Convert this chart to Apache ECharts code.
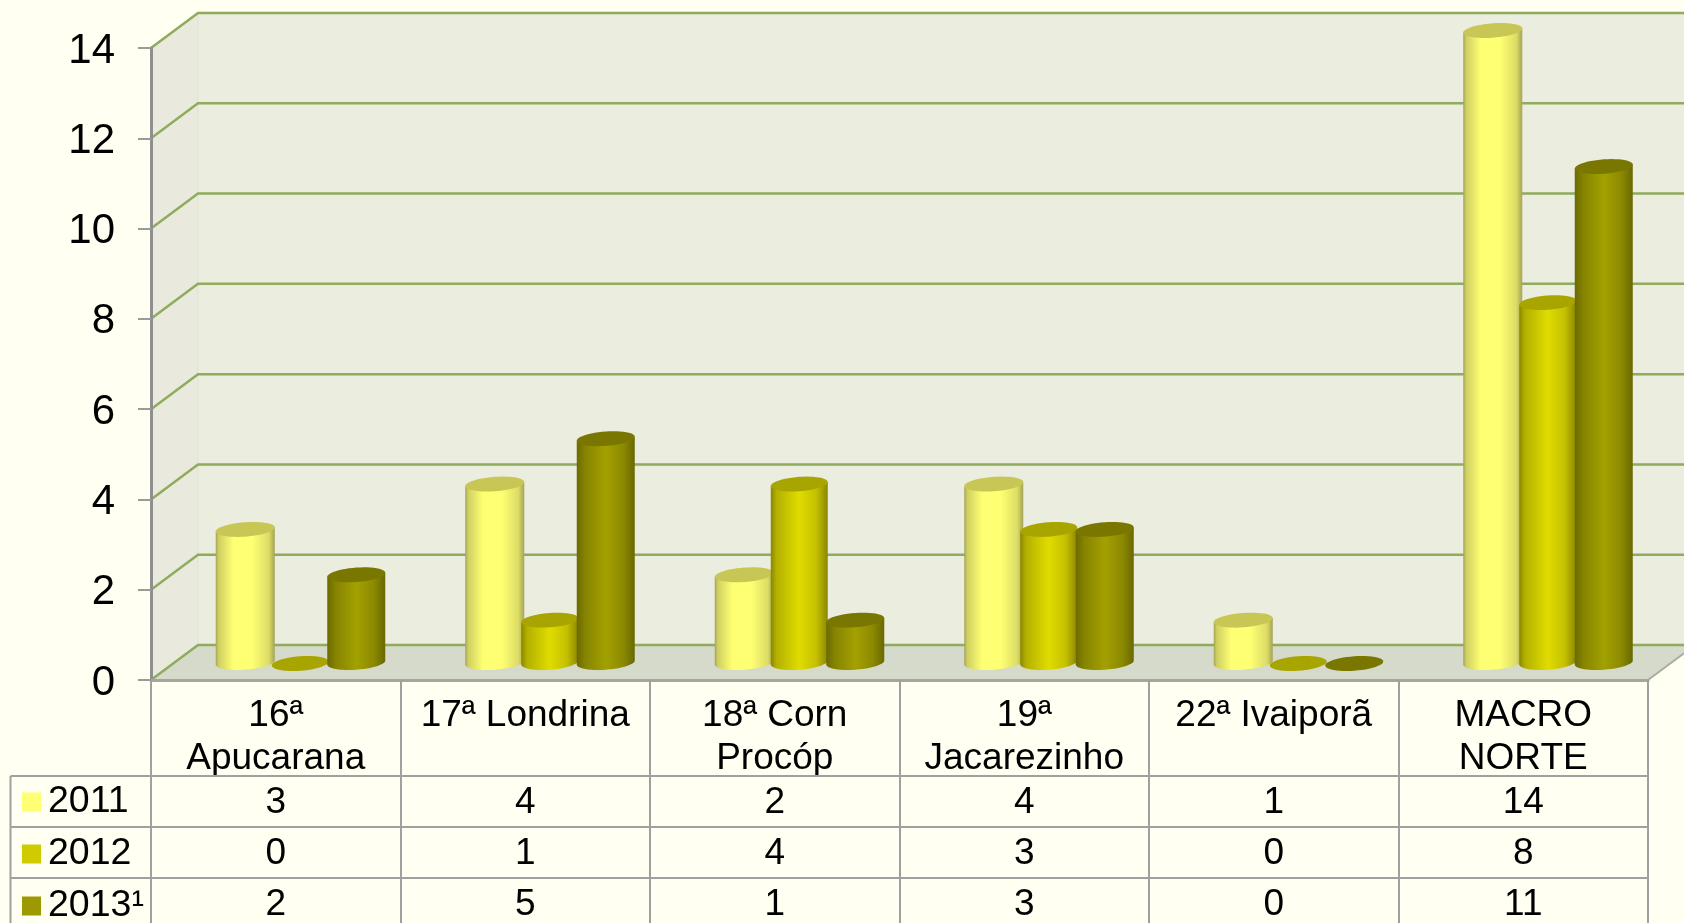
<!DOCTYPE html>
<html><head><meta charset="utf-8">
<style>html,body{margin:0;padding:0;background:#fffff2;overflow:hidden}#c{width:1684px;height:923px}</style>
<script src="https://cdn.jsdelivr.net/npm/echarts@6/dist/echarts.min.js"></script>
</head><body><div id="c"></div>
<script>
const categories = ['16ª\nApucarana','17ª Londrina','18ª Corn\nProcóp','19ª\nJacarezinho','22ª Ivaiporã','MACRO\nNORTE'];
const yearNames = ['2011','2012','2013¹'];
const values2011 = [3,4,2,4,1,14];
const values2012 = [0,1,4,3,0,8];
const values2013 = [2,5,1,3,0,11];
const yTicks = [0,2,4,6,8,10,12,14];

const seriesValues = [values2011, values2012, values2013];
const swatch = ['#ffff73','#cfcb00','#9c9a00'];
const tops = ['#c8c755','#a9a500','#7a7700'];
const bodies = [
  [[0,'#a3a356'],[0.05,'#cfcf62'],[0.3,'#ffff73'],[0.62,'#ffff73'],[0.9,'#dcdc66'],[1,'#a3a356']],
  [[0,'#8a8700'],[0.1,'#b3b000'],[0.5,'#e0dc00'],[0.8,'#c4c000'],[1,'#8a8700']],
  [[0,'#6c6a00'],[0.15,'#868400'],[0.5,'#a3a100'],[0.8,'#8c8a00'],[1,'#6a6800']]
];
const W = 1684, H = 923;
const G = {l:151, r:1648, t:48, b:680};
const DX = 47, DY = -35;
const cellW = (G.r - G.l) / categories.length;
const barOffset = [-54, 1, 57], barR = [29.5, 28.5, 29], RY = 7.2, TILT = Math.tan(4*Math.PI/180);
const rows = [776, 827, 878, 929];
const lineCol = '#a0a0a0', gridCol = '#8fab5c';

function ellPt(cx,cy,r,t){ return [cx + r*Math.cos(t), cy + RY*Math.sin(t) - r*Math.cos(t)*TILT]; }
function cylinder(si){
  return function(params, api){
    const cat = api.value(0), val = api.value(1);
    const p0 = api.coord([cat,0]), p1 = api.coord([cat,val]);
    const cx = p0[0] + DX/2 + barOffset[si], r = barR[si];
    const by = p0[1] + DY/2;
    const ty = p1[1] + DY/2 + (val > 0 ? 3*(1 - val/14) : 1);
    const children = [];
    if (val > 0) {
      const pts = [ellPt(cx,ty,r,Math.PI), ellPt(cx,ty,r,0)];
      for (let i=0;i<=24;i++) pts.push(ellPt(cx,by,r,Math.PI*i/24));
      children.push({type:'polygon', shape:{points:pts}, style:{fill:new echarts.graphic.LinearGradient(0,0,1,0,bodies[si].map(s=>({offset:s[0],color:s[1]})))}});
    }
    const top = [];
    for (let i=0;i<48;i++) top.push(ellPt(cx,ty,r,2*Math.PI*i/48));
    children.push({type:'polygon', shape:{points:top}, style:{fill:tops[si]}});
    return {type:'group', children};
  };
}
function wallItem(params, api){
  const a = api.coord([0,0]);
  const topP = api.coord([0,14]);
  const lx=G.l, by=a[1], ty=topP[1];
  return {type:'group', children:[
    {type:'polygon', shape:{points:[[lx+DX,by+DY],[lx+DX,ty+DY],[W+10,ty+DY],[W+10,by+DY]]}, style:{fill:'#ebeddf'}},
    {type:'polygon', shape:{points:[[lx,by],[lx,ty],[lx+DX,ty+DY],[lx+DX,by+DY]]}, style:{fill:'#e9eadd'}},
    {type:'polygon', shape:{points:[[lx,by],[lx+DX,by+DY],[W+10,by+DY],[G.r+DX,by+DY],[G.r,by]]}, style:{fill:'#d6dacb'}},
    {type:'line', shape:{x1:lx+DX,y1:ty+DY,x2:lx+DX,y2:by+DY}, style:{stroke:'#dfe3d4',lineWidth:1}},
    {type:'line', shape:{x1:G.r,y1:by,x2:W,y2:by+DY*(W-G.r)/DX}, style:{stroke:'#a9ada3',lineWidth:2}}
  ]};
}
function gridItem(params, api){
  const p = api.coord([0,api.value(0)]);
  return {type:'group', children:[
    {type:'polyline', shape:{points:[[G.l,p[1]],[G.l+DX,p[1]+DY],[W+10,p[1]+DY]]}, style:{stroke:gridCol,lineWidth:2.5,fill:null}}
  ]};
}

const table = [];
rows.forEach(y=>table.push({type:'line',shape:{x1:10.5,y1:y,x2:G.r,y2:y},style:{stroke:lineCol,lineWidth:2},z:10}));
table.push({type:'line',shape:{x1:10.5,y1:rows[0],x2:10.5,y2:H},style:{stroke:lineCol,lineWidth:2},z:10});
seriesValues.forEach((arr,ri)=>arr.forEach((v,ci)=>table.push({
  type:'text',z:11,
  style:{text:String(v),x:G.l+(ci+.5)*cellW,y:(rows[ri]+rows[ri+1])/2+1,align:'center',verticalAlign:'middle',
         font:'37px "Liberation Sans"',fill:'#000'}
})));

const chart = echarts.init(document.getElementById('c'),null,{renderer:'canvas'});
chart.setOption({
  animation:false,
  backgroundColor:'#fffff2',
  grid:{left:G.l,top:G.t,width:G.r-G.l,height:G.b-G.t,containLabel:false},
  legend:{
    orient:'vertical',left:22,top:783,height:400,padding:0,itemWidth:19,itemHeight:19,itemGap:14,selectedMode:false,
    icon:'rect',data:yearNames,
    textStyle:{fontFamily:'Liberation Sans',fontSize:37.5,lineHeight:36,color:'#000',padding:[0,0,0,2]}
  },
  xAxis:{type:'category',data:categories,boundaryGap:true,z:8,
    axisLine:{lineStyle:{color:'#a4a7a0',width:3}},
    axisTick:{show:true,inside:false,length:250,alignWithLabel:false,lineStyle:{color:lineCol,width:2}},
    axisLabel:{interval:0,margin:14,fontFamily:'Liberation Sans',fontSize:37,lineHeight:43,color:'#000',verticalAlign:'top'}
  },
  yAxis:{type:'value',min:0,max:14,interval:2,z:8,
    axisLine:{show:true,lineStyle:{color:'#8f8f8f',width:3}},
    axisTick:{show:true,length:13,lineStyle:{color:'#9a9a9a',width:2}},
    splitLine:{show:false},
    axisLabel:{margin:36,color:'#000',formatter:'{t|{value}}',
      rich:{t:{fontFamily:'Liberation Sans',fontSize:42,color:'#000',padding:[6,0,0,0]}}}
  },
  graphic:table,
  series:[
    {type:'custom',name:'walls',coordinateSystem:'cartesian2d',silent:true,z:1,data:[[0]],renderItem:wallItem,encode:{y:0},clip:false},
    {type:'custom',name:'grid',coordinateSystem:'cartesian2d',silent:true,z:2,data:yTicks.map(v=>[v]),renderItem:gridItem,encode:{y:0},clip:false}
  ].concat(seriesValues.map((arr,si)=>({
    type:'custom',name:yearNames[si],coordinateSystem:'cartesian2d',z:3+si,clip:false,
    itemStyle:{color:swatch[si]},
    data:arr.map((v,i)=>[i,v]),encode:{x:0,y:1},renderItem:cylinder(si)
  })))
});
</script></body></html>
